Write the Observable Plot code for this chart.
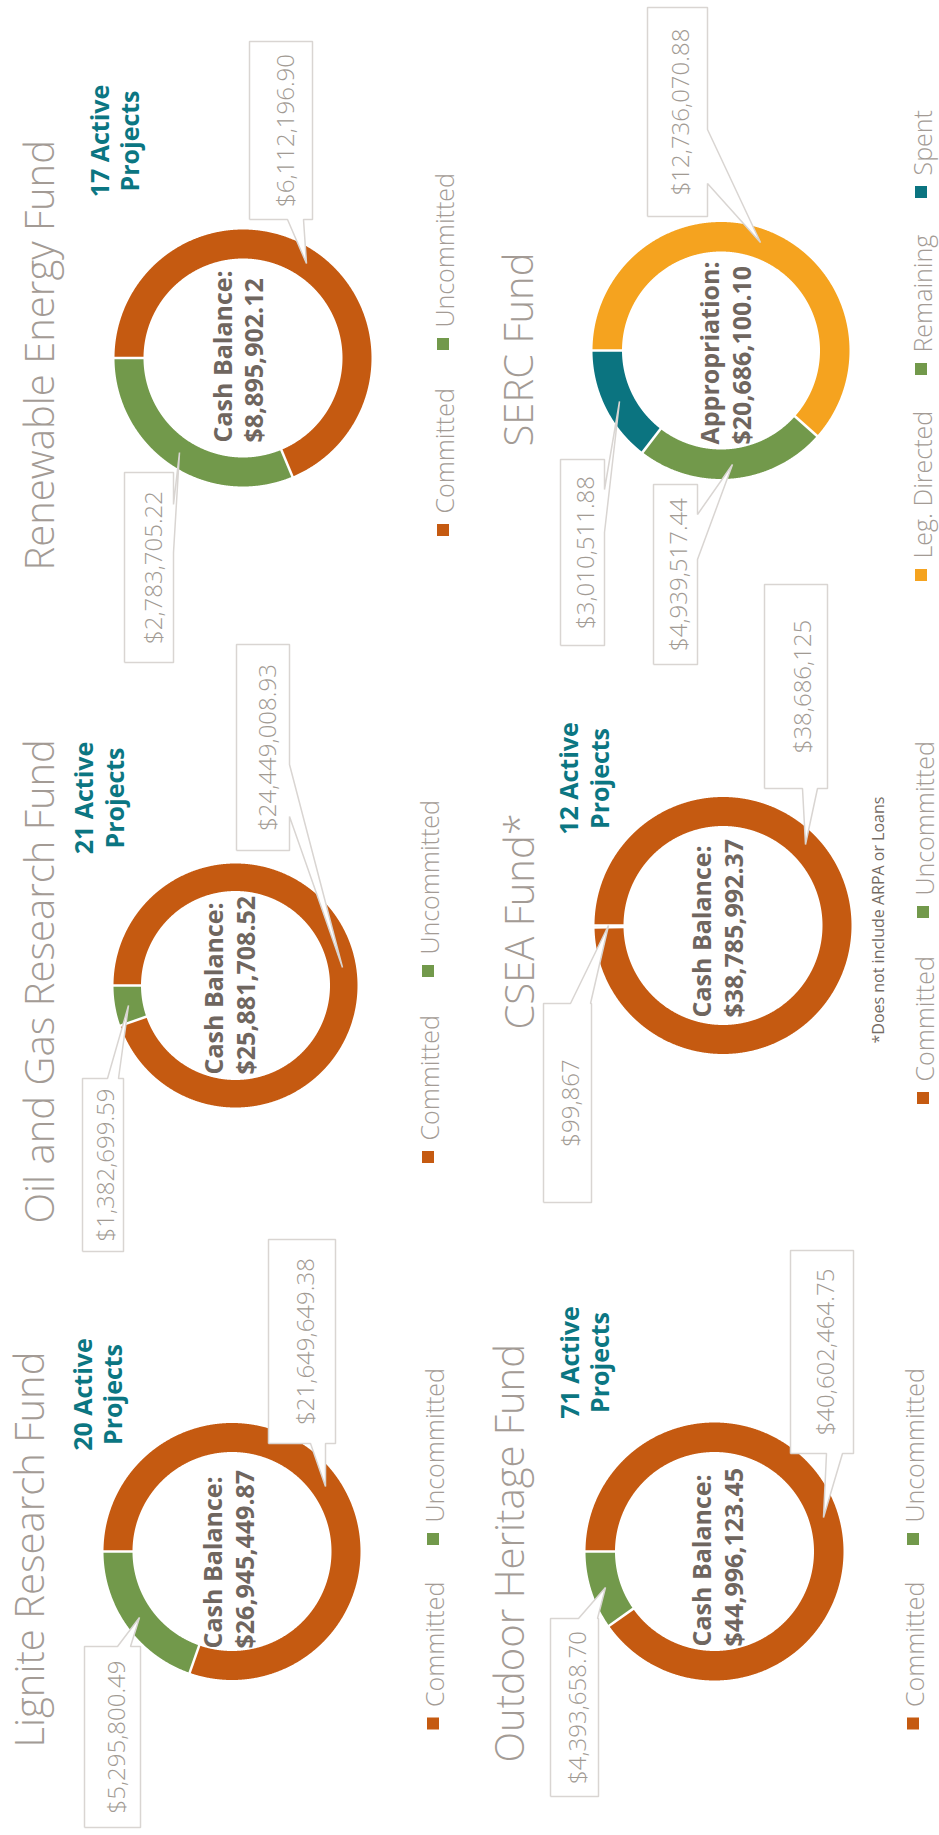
<!DOCTYPE html>
<html><head><meta charset="utf-8">
<script src="https://cdn.jsdelivr.net/npm/d3@7"></script>
<script src="https://cdn.jsdelivr.net/npm/@observablehq/plot@0.6"></script>
<style>
html,body{margin:0;padding:0;background:#fff;overflow:hidden;}
body{width:939px;height:1835px;position:relative;}
#page{position:absolute;left:0;top:0;width:1835px;height:939px;transform-origin:0 0;transform:translate(0px,1835px) rotate(-90deg);background:#fff;}
</style></head><body><div id="page"></div>
<script>
// ---------------- DATA ----------------
const funds = ["Lignite Research Fund", "Oil and Gas Research Fund", "Renewable Energy Fund",
               "Outdoor Heritage Fund", "CSEA Fund*", "SERC Fund"];
const activeProjects = [20, 21, 17, 71, 12, null];
const centerLabels = ["Cash Balance:", "Cash Balance:", "Cash Balance:", "Cash Balance:", "Cash Balance:", "Appropriation:"];
const centerValues = [26945449.87, 25881708.52, 8895902.12, 44996123.45, 38785992.37, 20686100.10];
const categories = ["Committed", "Uncommitted"];
const committed   = [21649649.38, 24449008.93, 6112196.90, 40602464.75, 38686125];
const uncommitted = [5295800.49, 1382699.59, 2783705.22, 4393658.70, 99867];
const sercCategories = ["Leg. Directed", "Remaining", "Spent"];
const sercValues = [12736070.88, 4939517.44, 3010511.88];
const footnotes = ["*Does not include ARPA or Loans"];

// ---------------- STYLE / LAYOUT (unrotated page coordinates) ----------------
const allCats = ["Committed", "Uncommitted", "Leg. Directed", "Remaining", "Spent"];
const catColors = ["#C55A11", "#72994B", "#F5A31F", "#72994B", "#0B7480"];
const layout = [
  {cu:283, cv:231.5, R:128.5, r:99.5, title:[87,43], active:[440,91,121], center:[186,221.5,253], legend:{v:443, u:[105.5,290]},
   callouts:[{box:[391,595,268,335], side:"left", base:[310,325], tip:[348,325], tv:313},
             {box:[7,188,84,140], side:"right", base:[117,130], tip:[217,139], tv:124}]},
  {cu:849, cv:235, R:122, r:94.5, title:[611,53], active:[1036.5,92,123], center:[760,222,254], legend:{v:438, u:[672,858]},
   callouts:[{box:[984,1190,236,289], side:"bottom", base:[1018,1070], tip:[867,342], tv:275},
             {box:[583,756,82,123], side:"right", base:[107,118], tip:[829,128], tv:113}]},
  {cu:1476.5, cv:242.5, R:128.5, r:99.5, title:[1264,53], active:[1693.5,108,138], center:[1392,231,262], legend:{v:453, u:[1299,1485]},
   callouts:[{box:[1615,1793,249,312], side:"left", base:[287,303], tip:[1571,306], tv:293},
             {box:[1172,1362,124,173], side:"bottom", base:[1282,1330], tip:[1382,179], tv:161}]},
  {cu:283, cv:714, R:129, r:99.5, title:[72,523], active:[472,578,608], center:[188,710,742], legend:{v:923, u:[105.5,290]},
   callouts:[{box:[381,584,790,853], side:"left", base:[826,842], tip:[317,823], tv:833},
             {box:[38,216,550,598], side:"right", base:[578,597], tip:[247,605], tv:585}]},
  {cu:909, cv:722.5, R:128.5, r:99.5, title:[805,533], active:[1056,577,608], center:[817,710,742], legend:{v:933, u:[731,917]},
   callouts:[{box:[1046,1250,764,827], side:"left", base:[802,817], tip:[990,805], tv:810},
             {box:[632,831,543,591], side:"right", base:[570,590], tip:[909,608], tv:578}]},
  {cu:1484, cv:720.5, R:128.5, r:99, title:[1388,532], active:null, center:[1390,718,750], legend:{v:931, u:[1254,1460,1637]},
   callouts:[{box:[1618,1827,647,707], side:"bottom", base:[1651,1705], tip:[1592,760], tv:688},
             {box:[1170,1350,653,697], side:"bottom", base:[1275,1320], tip:[1370,732], tv:686},
             {box:[1189,1375,560,604], side:"bottom", base:[1302,1345], tip:[1433,619], tv:593}]}
];
const footLayout = [[791, 883]];

const titleColor = "#A39B95", tealText = "#0B7682", centerColor = "#6F665F",
      labelColor = "#A19A93", boxStroke = "#D9D5D2", legendColor = "#A39B95";
const FONT = "'Open Sans', 'Noto Sans', sans-serif";

// ---------------- BUILD ----------------
const fmt = v => Number.isInteger(v) ? d3.format("$,")(v) : d3.format("$,.2f")(v);
const panels = funds.map((name, i) => ({
  name, active: activeProjects[i], centerLabel: centerLabels[i], centerValue: centerValues[i],
  cats: i === 5 ? sercCategories : categories,
  values: i === 5 ? sercValues : [committed[i], uncommitted[i]],
  L: layout[i]
}));

const marks = [];
const arcRows = [], sepRows = [], boxRows = [], labelRows = [];
const titleRows = [], activeRows = [], centerRows = [], legSq = [], legTxt = [];

panels.forEach((p, pi) => {
  const L = p.L, total = d3.sum(p.values), rm = (L.R + L.r) / 2;
  let acc = 0;
  const rows = [];
  p.values.forEach((v, si) => {
    const a0 = acc / total * 2 * Math.PI; acc += v;
    const a1 = acc / total * 2 * Math.PI;
    const n = Math.max(2, Math.ceil((a1 - a0) / (Math.PI / 720)));
    for (let k = 0; k <= n; k++) {
      const a = a0 + (a1 - a0) * k / n;
      rows.push({u: L.cu + rm * Math.sin(a), v: L.cv - rm * Math.cos(a), key: pi + "-" + si, cat: p.cats[si]});
    }
    sepRows.push({u1: L.cu + (L.r - 2) * Math.sin(a0), v1: L.cv - (L.r - 2) * Math.cos(a0),
                  u2: L.cu + (L.R + 2) * Math.sin(a0), v2: L.cv - (L.R + 2) * Math.cos(a0)});
    // callout
    const c = L.callouts[si];
    const [u1, u2, v1, v2] = c.box, [b1, b2] = c.base, [tu, tv] = c.tip;
    const pts = [[u1, v1], [u2, v1]];
    if (c.side === "right") pts.push([u2, b1], [tu, tv], [u2, b2]);
    pts.push([u2, v2]);
    if (c.side === "bottom") pts.push([b2, v2], [tu, tv], [b1, v2]);
    pts.push([u1, v2]);
    if (c.side === "left") pts.push([u1, b2], [tu, tv], [u1, b1]);
    pts.push([u1, v1]);
    pts.forEach(([u, vv]) => boxRows.push({u, v: vv, id: pi + "-" + si}));
    labelRows.push({u: (u1 + u2) / 2, v: c.tv, t: fmt(v)});
    // legend
    legSq.push({u1: L.legend.u[si], u2: L.legend.u[si] + 12, v1: L.legend.v - 16, v2: L.legend.v - 4, cat: p.cats[si]});
    legTxt.push({u: L.legend.u[si] + 22, v: L.legend.v, t: p.cats[si]});
  });
  arcRows.push({rows, w: L.R - L.r});
  titleRows.push({u: L.title[0], v: L.title[1], t: p.name});
  if (p.active != null) {
    activeRows.push({u: L.active[0], v: L.active[1], t: p.active + " Active"});
    activeRows.push({u: L.active[0], v: L.active[2], t: "Projects"});
  }
  centerRows.push({u: L.center[0], v: L.center[1], t: p.centerLabel});
  centerRows.push({u: L.center[0], v: L.center[2], t: fmt(p.centerValue)});
});

arcRows.forEach(a => marks.push(Plot.line(a.rows, {x: "u", y: "v", z: "key", stroke: "cat",
  strokeWidth: a.w, strokeLinecap: "butt", strokeLinejoin: "round"})));
marks.push(Plot.link(sepRows, {x1: "u1", y1: "v1", x2: "u2", y2: "v2", stroke: "white", strokeWidth: 2.5}));
marks.push(Plot.line(boxRows, {x: "u", y: "v", z: "id", fill: "white", stroke: boxStroke, strokeWidth: 1.5,
  strokeLinejoin: "miter", strokeLinecap: "butt"}));
marks.push(Plot.text(labelRows, {x: "u", y: "v", text: "t", textAnchor: "middle", lineAnchor: "bottom",
  fontSize: 24, fontWeight: 300, fill: labelColor}));
marks.push(Plot.text(titleRows, {x: "u", y: "v", text: "t", textAnchor: "start", lineAnchor: "bottom",
  fontSize: 40, fontWeight: 300, fill: titleColor}));
marks.push(Plot.text(activeRows, {x: "u", y: "v", text: "t", textAnchor: "middle", lineAnchor: "bottom",
  fontSize: 25, fontWeight: 700, fill: tealText}));
marks.push(Plot.text(centerRows, {x: "u", y: "v", text: "t", textAnchor: "start", lineAnchor: "bottom",
  fontSize: 25, fontWeight: 700, fill: centerColor}));
marks.push(Plot.rect(legSq, {x1: "u1", x2: "u2", y1: "v1", y2: "v2", fill: "cat"}));
marks.push(Plot.text(legTxt, {x: "u", y: "v", text: "t", textAnchor: "start", lineAnchor: "bottom",
  fontSize: 25, fontWeight: 300, fill: legendColor}));
marks.push(Plot.text(footnotes.map((t, i) => ({t, u: footLayout[i][0], v: footLayout[i][1]})),
  {x: "u", y: "v", text: "t", textAnchor: "start", lineAnchor: "bottom", fontSize: 16, fontWeight: 400, fill: "#746B64"}));

const W = 1835, H = 939;
const chart = Plot.plot({
  width: W, height: H, margin: 0,
  x: {domain: [0, W], range: [0, W], axis: null},
  y: {domain: [0, H], range: [0, H], axis: null},
  color: {domain: allCats, range: catColors},
  style: {fontFamily: FONT, background: "white", overflow: "visible"},
  marks
});
document.getElementById("page").appendChild(chart);
</script></body></html>
